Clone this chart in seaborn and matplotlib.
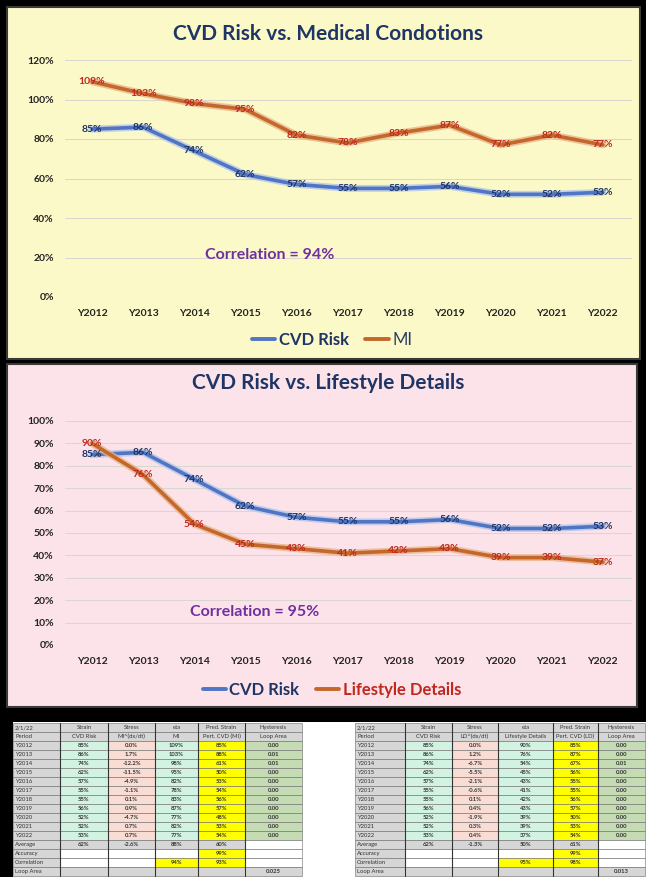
import matplotlib
matplotlib.use("Agg")
import matplotlib.pyplot as plt
import matplotlib.patheffects as pe
from matplotlib.patches import Rectangle
import seaborn as sns
import pandas as pd

# ---- chart data ----
years = ["Y2012", "Y2013", "Y2014", "Y2015", "Y2016", "Y2017",
         "Y2018", "Y2019", "Y2020", "Y2021", "Y2022"]
cvd_risk = [85, 86, 74, 62, 57, 55, 55, 56, 52, 52, 53]
mi = [109, 103, 98, 95, 82, 78, 83, 87, 77, 82, 77]
lifestyle = [90, 76, 54, 45, 43, 41, 42, 43, 39, 39, 37]
corr_mi = 94
corr_ld = 95

# ---- table data ----
t1_head1 = ["2/1/22", "Strain", "Stress", "eta", "Pred. Strain", "Hysteresis"]
t1_head2 = ["Period", "CVD Risk", "MI^(dx/dt)", "MI", "Pert. CVD (MI)", "Loop Area"]
t1_stress = ["0.0%", "1.7%", "-12.2%", "-11.5%", "-4.9%", "-1.1%",
             "0.1%", "0.9%", "-4.7%", "0.7%", "0.7%"]
t1_pred = [85, 88, 61, 50, 53, 54, 56, 57, 48, 53, 54]
t1_loop = ["0.00", "0.01", "0.01", "0.00", "0.00", "0.00",
           "0.00", "0.00", "0.00", "0.00", "0.00"]
t1_avg = ["62%", "-2.6%", "88%", "60%"]
t1_acc, t1_corr, t1_area = "99%", ("94%", "93%"), "0.025"

t2_head1 = ["2/1/22", "Strain", "Stress", "eta", "Pred. Strain", "Hysteresis"]
t2_head2 = ["Period", "CVD Risk", "LD^(dx/dt)", "Lifestyle Details", "Pert. CVD (LD)", "Loop Area"]
t2_stress = ["0.0%", "1.2%", "-6.7%", "-5.5%", "-2.1%", "-0.6%",
             "0.1%", "0.4%", "-1.9%", "0.3%", "0.4%"]
t2_pred = [85, 87, 67, 56, 55, 55, 56, 57, 50, 53, 54]
t2_loop = ["0.00", "0.00", "0.01", "0.00", "0.00", "0.00",
           "0.00", "0.00", "0.00", "0.00", "0.00"]
t2_avg = ["62%", "-1.3%", "50%", "61%"]
t2_acc, t2_corr, t2_area = "99%", ("95%", "98%"), "0.013"

W, H = 646, 877
BLUE, BLUE_GLOW = "#4f75c4", "#b3c6ea"
ORANGE, ORANGE_GLOW = "#c4672a", "#e8b48c"
NAVY, DARKRED, PURPLE = "#1f3566", "#c0281e", "#7030a0"

sns.set_theme(style="white")
plt.rcParams["font.family"] = ["Lato", "DejaVu Sans"]


def fx(px):
    return px / W


def fy(py):
    return 1 - py / H


def box(x0, y0, x1, y1):
    return [fx(x0), fy(y1), fx(x1) - fx(x0), fy(y0) - fy(y1)]


fig = plt.figure(figsize=(W / 100, H / 100), dpi=100, facecolor="black")

# background layer: panels and the white strip behind the tables
bg = fig.add_axes([0, 0, 1, 1], zorder=-5)
bg.set_xlim(0, W)
bg.set_ylim(H, 0)
bg.axis("off")
bg.add_patch(Rectangle((7, 7), 633, 352, facecolor="#fcf9c8",
                       edgecolor="#3a3a3a", lw=1.5))
bg.add_patch(Rectangle((7, 364), 630, 343, facecolor="#fce3ea",
                       edgecolor="#3a3a3a", lw=1.5))
bg.add_patch(Rectangle((13, 722), 640, 160, facecolor="white", edgecolor="none"))


def draw_chart(ax, other, other_name, ymax, ystep, corr, corr_pos, legend_anchor):
    df = pd.DataFrame({
        "year": years * 2,
        "value": [v / 100 for v in cvd_risk] + [v / 100 for v in other],
        "series": ["CVD Risk"] * len(years) + [other_name] * len(years),
    })
    sns.lineplot(data=df, x="year", y="value", hue="series",
                 palette={"CVD Risk": BLUE, other_name: ORANGE},
                 linewidth=2.6, ax=ax, sort=False)
    for line, glow in zip(ax.lines[:2], [BLUE_GLOW, ORANGE_GLOW]):
        line.set_path_effects([pe.Stroke(linewidth=5, foreground=glow, alpha=0.8),
                               pe.Normal()])
    ax.set_facecolor("none")
    ax.set_ylim(0, ymax / 100)
    ax.set_xlim(-0.53, len(years) - 0.43)
    ticks = list(range(0, ymax + 1, ystep))
    ax.set_yticks([t / 100 for t in ticks])
    ax.set_yticklabels([f"{t}%" for t in ticks], fontsize=7.5, fontweight="bold",
                       color="#222222")
    ax.tick_params(axis="y", pad=8, length=0)
    ax.tick_params(axis="x", pad=9, length=0, labelsize=7.5)
    for lab in ax.get_xticklabels():
        lab.set_fontweight("bold")
        lab.set_color("#222222")
    ax.grid(axis="y", color="#d8d8d0", lw=0.8)
    sns.despine(ax=ax, left=True, bottom=True)
    ax.set_xlabel("")
    ax.set_ylabel("")

    for i, v in enumerate(cvd_risk):
        ax.text(i, v / 100, f"{v}%", ha="center", va="center", fontsize=7.5,
                fontweight="bold", color=NAVY)
    for i, v in enumerate(other):
        ax.text(i, v / 100, f"{v}%", ha="center", va="center", fontsize=7.5,
                fontweight="bold", color=DARKRED)

    ax.text(corr_pos[0], corr_pos[1] / 100, f"Correlation = {corr}%", ha="center",
            va="center", fontsize=11.5, fontweight="bold", color=PURPLE)

    sns.move_legend(ax, "center", bbox_to_anchor=legend_anchor,
                    bbox_transform=fig.transFigure, ncol=2, frameon=False,
                    title=None, fontsize=12, handlelength=1.4, handletextpad=0.2,
                    columnspacing=1.0)
    leg = ax.get_legend()
    for h in leg.legend_handles:
        h.set_linewidth(2.8)
    return leg


ax1 = fig.add_axes(box(65, 60, 632, 297))
leg1 = draw_chart(ax1, mi, "MI", 120, 20, corr_mi, (3.48, 21.3),
                  (fx(332), fy(340)))
for t, c, w in zip(leg1.get_texts(), [NAVY, "#2d3d66"], ["bold", "normal"]):
    t.set_color(c)
    t.set_fontweight(w)
fig.text(fx(328), fy(34), "CVD Risk vs. Medical Condotions", ha="center",
         va="center", fontsize=15, fontweight="bold", color=NAVY)

ax2 = fig.add_axes(box(65, 421, 632, 645))
leg2 = draw_chart(ax2, lifestyle, "Lifestyle Details", 100, 10, corr_ld,
                  (3.19, 14.7), (fx(332), fy(690)))
for t, c in zip(leg2.get_texts(), [NAVY, DARKRED]):
    t.set_color(c)
    t.set_fontweight("bold")
fig.text(fx(328), fy(383), "CVD Risk vs. Lifestyle Details", ha="center",
         va="center", fontsize=15, fontweight="bold", color=NAVY)

# ---- tables ----
GRAY, MINT, SALMON, YEL, SAGE = "#d6d6d6", "#d3f3e2", "#f9dcd3", "#ffff00", "#c5dbb3"
tax = fig.add_axes([0, 0, 1, 1])
tax.set_xlim(0, W)
tax.set_ylim(H, 0)
tax.axis("off")


def draw_table(x0, widths, head1, head2, stress, other, pred, loop, avg,
               acc, corr, area):
    rows = []
    rows.append(([GRAY] * 6, head1))
    rows.append(([GRAY] * 6, head2))
    for i, y in enumerate(years):
        rows.append(([GRAY, MINT, SALMON, MINT, YEL, SAGE],
                     [y, f"{cvd_risk[i]}%", stress[i], f"{other[i]}%",
                      f"{pred[i]}%", loop[i]]))
    rows.append(([GRAY] * 5 + ["white"], ["Average"] + avg + [""]))
    rows.append(([GRAY, "white", "white", "white", YEL, "white"],
                 ["Accuracy", "", "", "", acc, ""]))
    rows.append(([GRAY, "white", "white", YEL, YEL, "white"],
                 ["Correlation", "", "", corr[0], corr[1], ""]))
    rows.append(([GRAY] * 6, ["Loop Area", "", "", "", "", area]))
    y_top, rh = 723, (876 - 723) / len(rows)
    for r, (colors, texts) in enumerate(rows):
        xs = x0
        for c, (w, col, txt) in enumerate(zip(widths, colors, texts)):
            yy = y_top + r * rh
            tax.add_patch(Rectangle((xs, yy), w, rh, facecolor=col,
                                    edgecolor="#6a6a6a", lw=0.4))
            if txt:
                if c == 0:
                    tax.text(xs + 2, yy + rh / 2, txt, ha="left", va="center",
                             fontsize=4.2, color="#333333")
                else:
                    tax.text(xs + w / 2, yy + rh / 2, txt, ha="center",
                             va="center", fontsize=4.2, color="#333333",
                             fontweight="bold" if r > 1 else "normal")
            xs += w
    # darker group separators
    xs = x0
    for w in widths[:-1]:
        xs += w
        tax.plot([xs, xs], [y_top, y_top + rh * len(rows)], color="#333333", lw=0.8)


draw_table(13, [47, 48, 47, 43, 47, 57], t1_head1, t1_head2, t1_stress, mi,
           t1_pred, t1_loop, t1_avg, t1_acc, t1_corr, t1_area)
draw_table(355, [50, 47, 46, 55, 45, 47], t2_head1, t2_head2, t2_stress,
           lifestyle, t2_pred, t2_loop, t2_avg, t2_acc, t2_corr, t2_area)

fig.savefig("out.png", dpi=100, facecolor="black")
